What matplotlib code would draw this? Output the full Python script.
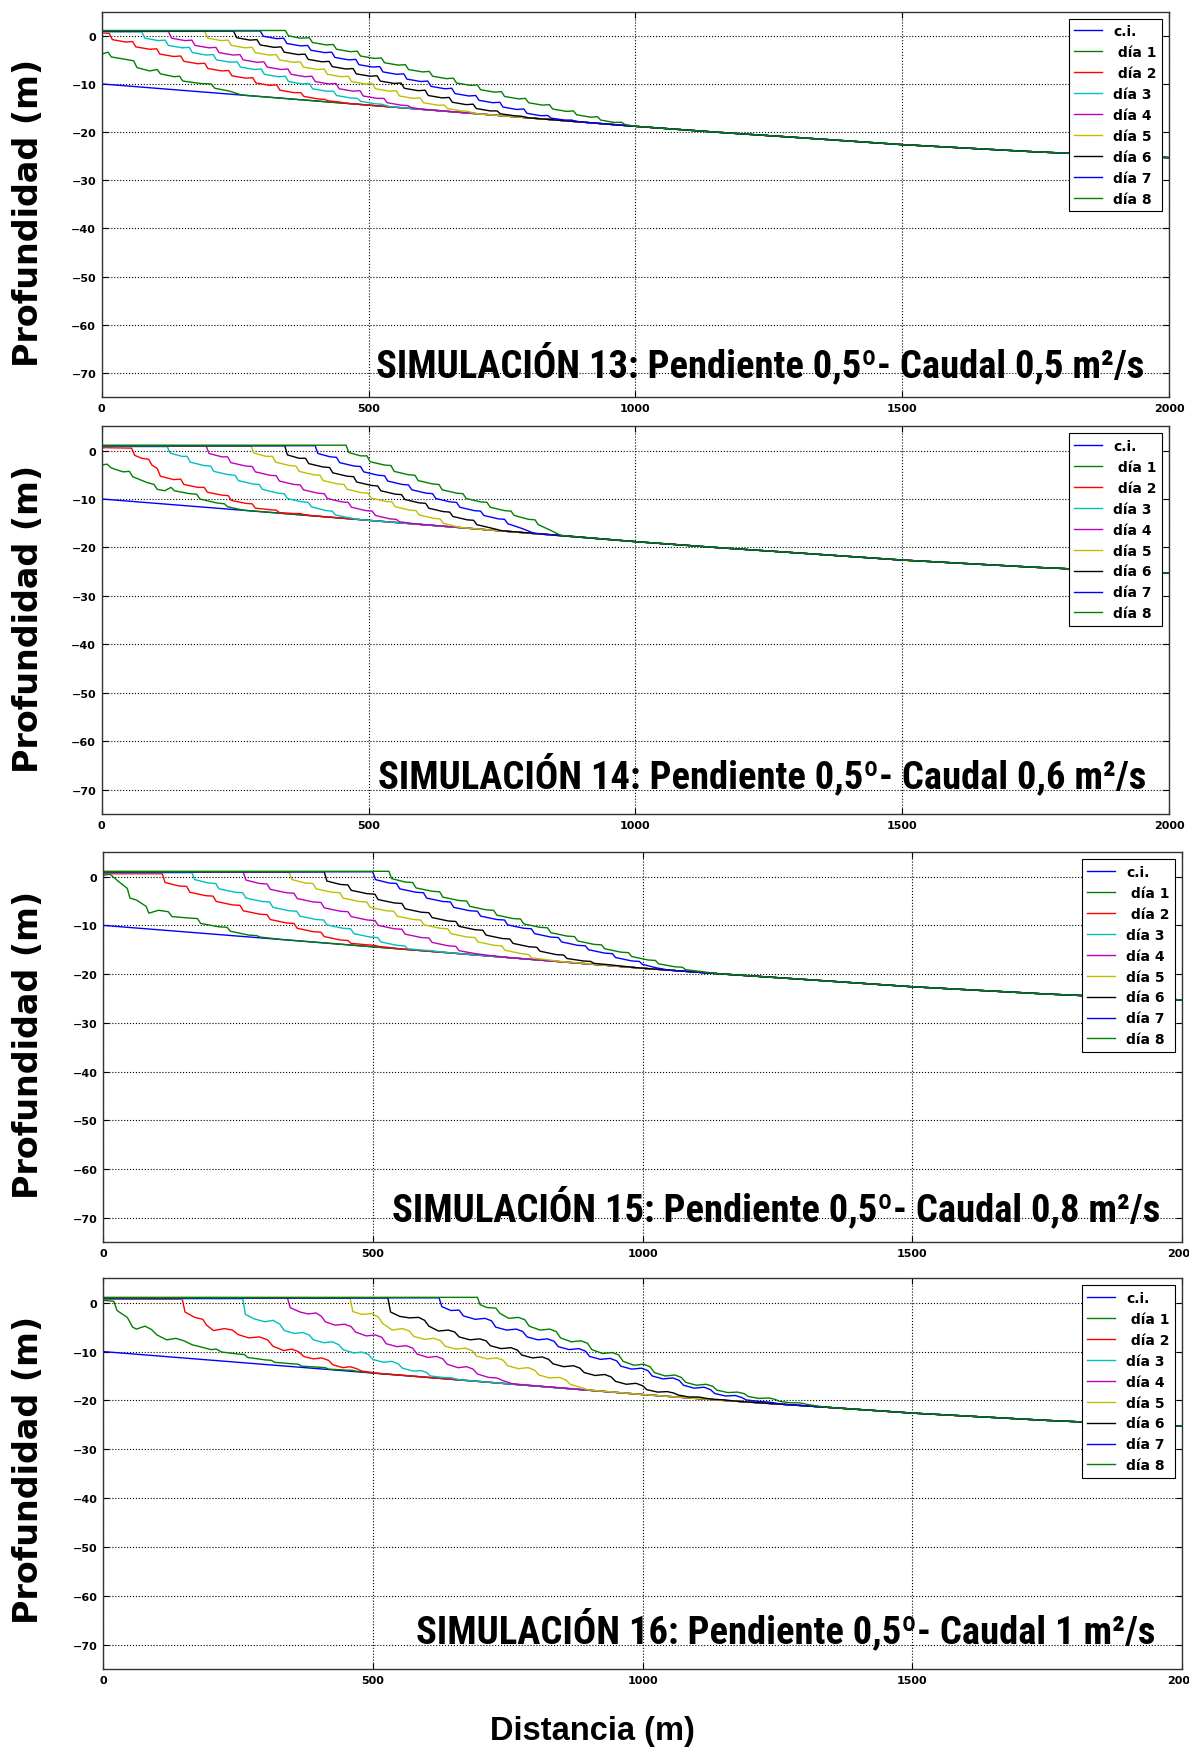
import matplotlib
matplotlib.use("Agg")
import matplotlib.pyplot as plt
from matplotlib import font_manager as fm

# ---------------------------------------------------------------- data
# initial bathymetry (c.i.), common to all four simulations
CI = [(0, -10.0), (250, -12.2), (500, -14.4), (750, -16.6), (1000, -18.8),
      (1150, -20.0), (1300, -21.1), (1500, -22.6), (1750, -24.1), (2000, -25.3)]

# Simulation 13 (Q = 0.5 m2/s)
S13_DIA1 = [(0, -3.8), (12, -3.4), (18, -4.4), (45, -4.9), (60, -5.2), (66, -6.6), (90, -7.3),
            (104, -7.0), (110, -7.9), (136, -8.5), (146, -8.4), (152, -9.4), (185, -9.9),
            (205, -10.0), (212, -10.9), (240, -11.5), (262, -12.3)]
S13_DIA2 = [(0, 0.6), (14, 0.5), (20, -0.8), (45, -1.3), (58, -1.2), (64, -2.3), (90, -2.8),
            (103, -2.7), (109, -3.8), (135, -4.3), (148, -4.2), (154, -5.3), (180, -5.8),
            (193, -5.7), (199, -6.8), (225, -7.3), (238, -7.2), (244, -8.3), (270, -8.8),
            (283, -8.7), (289, -9.8), (315, -10.3), (328, -10.2), (334, -11.3), (360, -11.8),
            (373, -11.8), (379, -12.6), (405, -13.1), (418, -13.2), (424, -13.5), (445, -13.75),
            (460, -14.02)]
S13_DIA3 = [(0, 0.8), (75, 0.8), (81, -0.5), (106, -1.0), (119, -0.9), (125, -2.0), (151, -2.5),
            (164, -2.4), (170, -3.5), (196, -4.0), (209, -3.9), (215, -5.0), (241, -5.5),
            (254, -5.4), (260, -6.5), (286, -7.0), (299, -6.9), (305, -8.0), (331, -8.5),
            (344, -8.4), (350, -9.5), (376, -10.0), (389, -9.9), (395, -11.0), (421, -11.5),
            (434, -11.5), (440, -12.4), (466, -12.9), (479, -13.0), (485, -13.6), (511, -14.1),
            (524, -14.2), (540, -14.71)]
S13_DIA4 = [(0, 0.9), (125, 0.9), (131, -0.5), (156, -1.0), (169, -0.9), (175, -2.0), (201, -2.5),
            (214, -2.4), (220, -3.5), (246, -4.0), (259, -3.9), (265, -5.0), (291, -5.5),
            (304, -5.4), (310, -6.5), (336, -7.0), (349, -6.9), (355, -8.0), (381, -8.5),
            (394, -8.4), (400, -9.5), (426, -10.0), (439, -9.9), (445, -11.0), (471, -11.5),
            (484, -11.4), (490, -12.5), (516, -13.0), (529, -13.0), (535, -13.9), (561, -14.4),
            (574, -14.5), (580, -14.9), (600, -15.24)]
S13_DIA5 = [(0, 0.9), (193, 0.9), (199, -0.5), (224, -1.0), (237, -0.9), (243, -2.0), (269, -2.5),
            (282, -2.4), (288, -3.5), (314, -4.0), (327, -3.9), (333, -5.0), (359, -5.5),
            (372, -5.4), (378, -6.5), (404, -7.0), (417, -6.9), (423, -8.0), (449, -8.5),
            (462, -8.4), (468, -9.5), (494, -10.0), (507, -9.9), (513, -11.0), (539, -11.5),
            (552, -11.4), (558, -12.5), (584, -13.0), (597, -12.9), (603, -13.9), (629, -14.4),
            (642, -14.4), (648, -15.1), (674, -15.6), (687, -15.7), (700, -16.16)]
S13_DIA6 = [(0, 1.0), (247, 1.0), (253, -0.4), (278, -0.9), (291, -0.8), (297, -1.9), (323, -2.4),
            (336, -2.3), (342, -3.4), (368, -3.9), (381, -3.8), (387, -4.9), (413, -5.4),
            (426, -5.3), (432, -6.4), (458, -6.9), (471, -6.8), (477, -7.9), (503, -8.4),
            (516, -8.3), (522, -9.4), (548, -9.9), (561, -9.8), (567, -10.9), (593, -11.4),
            (606, -11.3), (612, -12.4), (638, -12.9), (651, -12.8), (657, -13.8), (683, -14.3),
            (696, -14.2), (702, -15.1), (728, -15.6), (741, -15.6), (747, -16.2), (773, -16.6),
            (786, -16.7), (800, -17.04)]
S13_DIA7 = [(0, 1.0), (297, 1.0), (303, -0.1), (328, -0.6), (341, -0.5), (347, -1.6), (373, -2.1),
            (386, -2.0), (392, -3.0), (418, -3.5), (431, -3.4), (437, -4.5), (463, -5.0),
            (476, -4.9), (482, -6.0), (508, -6.5), (521, -6.4), (527, -7.5), (553, -8.0),
            (566, -7.9), (572, -9.0), (598, -9.5), (611, -9.4), (617, -10.5), (643, -11.0),
            (656, -10.9), (662, -12.0), (688, -12.5), (701, -12.4), (707, -13.4), (733, -13.9),
            (746, -13.8), (752, -14.8), (778, -15.3), (791, -15.2), (797, -16.1), (823, -16.6),
            (836, -16.55), (842, -17.1), (868, -17.5), (881, -17.5), (887, -17.7), (900, -17.92)]
S13_DIA8 = [(0, 1.1), (344, 1.1), (350, 0.0), (372, -0.5), (389, -0.4), (395, -1.4), (421, -1.9),
            (434, -1.8), (440, -2.8), (466, -3.3), (479, -3.2), (485, -4.2), (511, -4.7),
            (524, -4.6), (530, -5.6), (556, -6.1), (569, -6.0), (575, -7.0), (601, -7.5),
            (614, -7.4), (620, -8.4), (646, -8.9), (659, -8.8), (665, -9.8), (691, -10.3),
            (704, -10.2), (710, -11.2), (736, -11.7), (749, -11.6), (755, -12.6), (781, -13.1),
            (794, -13.0), (800, -13.9), (826, -14.4), (839, -14.3), (845, -15.2), (871, -15.7),
            (884, -15.6), (890, -16.4), (916, -16.9), (929, -16.8), (935, -17.5), (961, -18.0),
            (974, -17.95), (980, -18.4), (1000, -18.8)]

# Simulation 14 (Q = 0.6 m2/s)
S14_DIA1 = [(0, -3.0), (10, -2.8), (18, -3.6), (40, -4.4), (52, -4.3), (58, -5.4), (85, -6.6),
            (98, -7.0), (104, -8.0), (118, -8.3), (130, -7.6), (136, -8.3), (165, -8.9),
            (178, -9.0), (184, -10.0), (215, -10.8), (230, -11.0), (236, -11.6), (265, -12.3)]
S14_DIA2 = [(0, 0.6), (56, 0.5), (62, -1.0), (75, -1.6), (88, -1.8), (94, -3.0), (104, -3.7),
            (110, -5.3), (135, -6.0), (148, -5.9), (154, -7.0), (180, -7.6), (192, -7.6),
            (198, -8.6), (225, -9.2), (237, -9.3), (243, -10.3), (270, -10.9), (282, -11.0),
            (288, -11.9), (315, -12.2), (327, -12.3), (333, -12.8), (360, -13.0), (372, -13.0),
            (378, -13.2), (395, -13.45)]
S14_DIA3 = [(0, 0.8), (123, 0.8), (128, -0.5), (150, -1.2), (160, -1.2), (166, -2.4), (192, -3.1),
            (204, -3.2), (210, -4.3), (238, -5.0), (250, -5.1), (256, -6.2), (283, -6.9),
            (295, -7.0), (301, -8.0), (330, -8.8), (342, -8.9), (348, -9.9), (375, -10.6),
            (387, -10.7), (393, -11.6), (420, -12.4), (432, -12.5), (438, -13.3), (460, -13.8),
            (480, -14.2)]
S14_DIA4 = [(0, 0.9), (196, 0.9), (201, -0.6), (225, -1.3), (236, -1.3), (242, -2.5), (270, -3.2),
            (282, -3.3), (288, -4.4), (315, -5.1), (327, -5.2), (333, -6.3), (360, -7.0),
            (372, -7.1), (378, -8.1), (405, -8.8), (417, -8.9), (423, -9.9), (450, -10.6),
            (462, -10.7), (468, -11.7), (495, -12.4), (507, -12.5), (513, -13.4), (540, -14.1),
            (552, -14.2), (558, -14.7), (585, -15.1)]
S14_DIA5 = [(0, 0.9), (280, 0.9), (285, -0.5), (308, -1.2), (320, -1.2), (326, -2.4), (352, -3.1),
            (364, -3.2), (370, -4.3), (397, -5.0), (409, -5.1), (415, -6.2), (442, -6.9),
            (454, -7.0), (460, -8.0), (487, -8.7), (499, -8.8), (505, -9.8), (532, -10.5),
            (544, -10.6), (550, -11.6), (577, -12.3), (589, -12.4), (595, -13.3), (622, -14.0),
            (634, -14.1), (640, -15.0), (670, -15.85)]
S14_DIA6 = [(0, 1.0), (343, 1.0), (348, -0.9), (370, -1.6), (382, -1.6), (388, -2.7), (415, -3.4),
            (427, -3.5), (433, -4.6), (460, -5.3), (472, -5.4), (478, -6.5), (505, -7.2),
            (517, -7.3), (523, -8.3), (550, -9.0), (562, -9.1), (568, -10.1), (595, -10.8),
            (607, -10.9), (613, -11.9), (640, -12.6), (652, -12.7), (658, -13.6), (685, -14.3),
            (697, -14.4), (703, -15.3), (730, -16.0), (750, -16.55)]
S14_DIA7 = [(0, 1.0), (400, 1.0), (405, -0.6), (428, -1.3), (440, -1.4), (446, -2.5), (473, -3.2),
            (485, -3.3), (491, -4.4), (518, -5.1), (530, -5.2), (536, -6.3), (563, -7.0),
            (575, -7.1), (581, -8.1), (608, -8.8), (620, -8.9), (626, -9.9), (653, -10.6),
            (665, -10.7), (671, -11.7), (698, -12.4), (710, -12.5), (716, -13.4), (743, -14.1),
            (755, -14.2), (761, -15.1), (788, -16.1), (810, -17.07)]
S14_DIA8 = [(0, 1.1), (458, 1.1), (463, -0.4), (485, -1.1), (497, -1.1), (503, -2.3), (530, -3.0),
            (542, -3.1), (548, -4.3), (575, -5.0), (587, -5.1), (593, -6.2), (620, -6.9),
            (632, -7.0), (638, -8.1), (665, -8.8), (677, -8.9), (683, -9.9), (710, -10.6),
            (722, -10.7), (728, -11.7), (755, -12.4), (767, -12.5), (773, -13.4), (800, -14.2),
            (812, -14.3), (818, -15.3), (840, -16.4), (860, -17.5)]

# Simulation 15 (Q = 0.8 m2/s)
S15_DIA1 = [(0, 0.3), (13, 0.5), (29, -1.0), (45, -2.4), (50, -4.4), (62, -4.8), (80, -6.1),
            (85, -7.5), (103, -6.9), (121, -7.2), (128, -8.2), (160, -8.5), (175, -8.6),
            (181, -9.6), (215, -10.3), (230, -10.4), (236, -11.2), (270, -12.0), (285, -12.1),
            (291, -12.4), (330, -12.88)]
S15_DIA2 = [(0, 0.6), (110, 0.6), (115, -1.2), (140, -1.9), (155, -2.0), (161, -3.2), (190, -3.9),
            (204, -4.0), (210, -5.1), (240, -5.8), (254, -5.9), (260, -7.0), (290, -7.7),
            (304, -7.8), (310, -8.8), (340, -9.5), (354, -9.6), (360, -10.6), (390, -11.3),
            (404, -11.4), (410, -12.3), (440, -13.0), (454, -13.1), (460, -13.7), (490, -14.0),
            (504, -14.1), (510, -14.3), (555, -14.85)]
S15_DIA3 = [(0, 0.8), (165, 0.8), (170, -0.6), (195, -1.3), (209, -1.4), (215, -2.5), (245, -3.2),
            (259, -3.3), (265, -4.4), (295, -5.1), (309, -5.2), (315, -6.3), (345, -7.0),
            (359, -7.1), (365, -8.1), (395, -8.8), (409, -8.9), (415, -9.9), (445, -10.6),
            (459, -10.7), (465, -11.7), (495, -12.4), (509, -12.5), (515, -13.4), (545, -14.1),
            (559, -14.2), (565, -14.8), (595, -15.1), (609, -15.2), (615, -15.3), (640, -15.59)]
S15_DIA4 = [(0, 0.9), (260, 0.9), (265, -0.7), (290, -1.4), (304, -1.5), (310, -2.6), (340, -3.3),
            (354, -3.4), (360, -4.5), (390, -5.2), (404, -5.3), (410, -6.4), (440, -7.1),
            (454, -7.2), (460, -8.2), (490, -8.9), (504, -9.0), (510, -10.0), (540, -10.7),
            (554, -10.8), (560, -11.8), (590, -12.5), (604, -12.6), (610, -13.5), (640, -14.2),
            (654, -14.3), (660, -15.2), (690, -15.8), (704, -16.0), (710, -16.1), (740, -16.46)]
S15_DIA5 = [(0, 0.9), (345, 0.9), (350, -0.6), (375, -1.3), (389, -1.4), (395, -2.5), (425, -3.2),
            (439, -3.3), (445, -4.4), (475, -5.1), (489, -5.2), (495, -6.3), (525, -7.0),
            (539, -7.1), (545, -8.1), (575, -8.8), (589, -8.9), (595, -9.9), (625, -10.6),
            (639, -10.7), (645, -11.7), (675, -12.4), (689, -12.5), (695, -13.4), (725, -14.1),
            (739, -14.2), (745, -15.1), (775, -15.8), (789, -16.0), (795, -16.7), (820, -17.0),
            (845, -17.38)]
S15_DIA6 = [(0, 1.0), (410, 1.0), (415, -0.9), (440, -1.6), (454, -1.7), (460, -2.8), (490, -3.5),
            (504, -3.6), (510, -4.7), (540, -5.4), (554, -5.5), (560, -6.6), (590, -7.3),
            (604, -7.4), (610, -8.4), (640, -9.1), (654, -9.2), (660, -10.2), (690, -10.9),
            (704, -11.0), (710, -12.0), (740, -12.7), (754, -12.8), (760, -13.7), (790, -14.4),
            (804, -14.5), (810, -15.3), (840, -16.0), (854, -16.1), (860, -16.8), (890, -17.3),
            (904, -17.4), (910, -17.8), (940, -18.1), (965, -18.42)]
S15_DIA7 = [(0, 1.0), (500, 1.0), (505, -0.6), (530, -1.3), (544, -1.4), (550, -2.5), (580, -3.2),
            (594, -3.3), (600, -4.4), (630, -5.1), (644, -5.2), (650, -6.3), (680, -7.0),
            (694, -7.1), (700, -8.1), (730, -8.8), (744, -8.9), (750, -9.9), (780, -10.6),
            (794, -10.7), (800, -11.7), (830, -12.4), (844, -12.5), (850, -13.4), (880, -14.1),
            (894, -14.2), (900, -15.0), (930, -15.7), (944, -15.8), (950, -16.6), (980, -17.3),
            (994, -17.4), (1000, -18.0), (1025, -18.7), (1050, -19.2)]
S15_DIA8 = [(0, 1.1), (530, 1.1), (535, -0.4), (560, -1.1), (574, -1.2), (580, -2.3), (610, -3.0),
            (624, -3.1), (630, -4.2), (660, -4.9), (674, -5.0), (680, -6.1), (710, -6.8),
            (724, -6.9), (730, -7.9), (760, -8.6), (774, -8.7), (780, -9.7), (810, -10.4),
            (824, -10.5), (830, -11.5), (860, -12.2), (874, -12.3), (880, -13.2), (910, -13.9),
            (924, -14.0), (930, -14.8), (960, -15.5), (974, -15.6), (980, -16.4), (1010, -17.1),
            (1024, -17.2), (1030, -17.9), (1060, -18.5), (1074, -18.6), (1080, -19.1),
            (1110, -19.5), (1140, -19.92)]

# Simulation 16 (Q = 1 m2/s)
S16_DIA1 = [(0, 0.5), (20, 0.3), (26, -1.6), (45, -3.0), (55, -5.0), (62, -5.4), (78, -4.8),
            (90, -5.5), (100, -6.6), (118, -7.6), (135, -7.3), (150, -7.8), (165, -8.6),
            (190, -9.3), (200, -9.6), (210, -9.5), (220, -10.1), (250, -10.5), (262, -10.6),
            (268, -11.2), (300, -11.7), (312, -11.8), (318, -12.2), (350, -12.5), (362, -12.6),
            (368, -13.0), (400, -13.2), (412, -13.3), (418, -13.6), (450, -13.8), (462, -13.85),
            (468, -14.0), (495, -14.32)]
S16_DIA2 = [(0, 0.7), (147, 0.7), (152, -1.9), (170, -3.0), (185, -3.4), (192, -4.6), (205, -5.7),
            (225, -5.3), (240, -5.6), (250, -6.5), (270, -7.2), (290, -7.0), (305, -7.6),
            (315, -8.9), (335, -9.8), (350, -9.5), (362, -10.0), (372, -11.0), (390, -11.5),
            (405, -11.3), (418, -11.8), (426, -12.7), (445, -13.3), (458, -13.1), (470, -13.5),
            (480, -14.0), (510, -14.45)]
S16_DIA3 = [(0, 0.8), (259, 0.8), (264, -2.4), (280, -3.3), (300, -3.9), (315, -3.6), (328, -4.4),
            (336, -5.7), (355, -6.3), (370, -6.1), (382, -6.6), (390, -7.6), (410, -8.2),
            (425, -8.0), (437, -8.6), (445, -9.6), (465, -10.3), (480, -10.1), (492, -10.6),
            (500, -11.6), (520, -12.2), (535, -12.0), (547, -12.5), (555, -13.4), (575, -14.0),
            (590, -13.9), (600, -14.3), (607, -15.0), (630, -15.3), (645, -15.35), (660, -15.76)]
S16_DIA4 = [(0, 0.9), (342, 0.9), (347, -1.0), (365, -1.9), (380, -2.3), (395, -2.1), (405, -2.8),
            (412, -3.9), (430, -4.6), (448, -4.4), (460, -4.9), (468, -6.0), (488, -6.8),
            (505, -6.6), (517, -7.1), (525, -8.4), (545, -9.0), (562, -8.8), (574, -9.3),
            (582, -10.5), (602, -11.2), (618, -11.0), (630, -11.5), (638, -12.6), (658, -13.3),
            (674, -13.1), (686, -13.6), (694, -14.6), (715, -15.3), (730, -15.4), (740, -15.9),
            (760, -16.63)]
S16_DIA5 = [(0, 0.9), (458, 0.9), (463, -1.8), (480, -2.4), (498, -2.2), (510, -2.9), (518, -4.2),
            (536, -5.6), (555, -5.3), (568, -5.8), (576, -6.9), (596, -7.5), (614, -7.3),
            (626, -7.8), (634, -8.9), (654, -9.5), (672, -9.3), (684, -9.8), (692, -10.9),
            (712, -11.5), (730, -11.3), (742, -11.8), (750, -12.9), (770, -13.5), (788, -13.3),
            (800, -13.8), (808, -14.8), (828, -15.4), (846, -15.3), (858, -15.8), (866, -16.7),
            (884, -17.3), (900, -17.86)]
S16_DIA6 = [(0, 1.0), (528, 1.0), (533, -1.9), (550, -2.8), (568, -3.1), (585, -3.0), (596, -3.6),
            (604, -4.8), (622, -5.8), (640, -5.6), (652, -6.0), (660, -7.0), (680, -7.6),
            (698, -7.4), (710, -7.8), (718, -8.8), (738, -9.4), (756, -9.2), (768, -9.7),
            (776, -10.7), (796, -11.3), (814, -11.1), (826, -11.6), (834, -12.5), (854, -13.1),
            (872, -12.9), (884, -13.4), (892, -14.3), (912, -14.9), (930, -14.7), (942, -15.2),
            (950, -16.1), (970, -16.7), (988, -16.5), (1000, -17.0), (1008, -17.8), (1028, -18.3),
            (1046, -18.2), (1058, -18.5), (1066, -18.9), (1086, -19.3), (1104, -19.3),
            (1116, -19.55), (1124, -19.7), (1150, -19.9), (1180, -20.22)]
S16_DIA7 = [(0, 1.0), (623, 1.0), (628, -0.8), (645, -1.6), (660, -1.5), (668, -2.7), (690, -3.4),
            (708, -3.2), (720, -3.7), (728, -5.0), (748, -5.6), (766, -5.4), (778, -5.9),
            (786, -7.0), (806, -7.6), (824, -7.4), (836, -7.9), (844, -9.0), (864, -9.6),
            (882, -9.4), (894, -9.9), (902, -11.0), (922, -11.6), (940, -11.4), (952, -11.9),
            (960, -13.0), (980, -13.6), (998, -13.4), (1010, -13.9), (1018, -15.0), (1038, -15.6),
            (1056, -15.4), (1068, -15.9), (1076, -16.9), (1096, -17.5), (1114, -17.3),
            (1126, -17.8), (1134, -18.6), (1154, -19.1), (1172, -19.0), (1184, -19.4),
            (1192, -19.9), (1215, -20.2), (1235, -20.35), (1260, -20.8)]
S16_DIA8 = [(0, 1.1), (694, 1.1), (699, -0.4), (712, -1.0), (728, -1.1), (736, -2.2), (752, -3.2),
            (770, -3.0), (782, -3.5), (790, -4.8), (810, -5.6), (828, -5.4), (840, -5.9),
            (848, -7.2), (868, -8.0), (886, -7.8), (898, -8.3), (906, -9.6), (926, -10.4),
            (944, -10.2), (956, -10.7), (964, -12.0), (984, -12.8), (1002, -12.6), (1014, -13.1),
            (1022, -14.3), (1042, -15.0), (1060, -14.8), (1072, -15.3), (1080, -16.3),
            (1100, -16.9), (1118, -16.7), (1130, -17.1), (1138, -17.9), (1158, -18.4),
            (1176, -18.3), (1188, -18.6), (1196, -19.2), (1216, -19.6), (1234, -19.5),
            (1246, -19.8), (1254, -20.2), (1274, -20.5), (1292, -20.5), (1304, -20.8),
            (1312, -20.95), (1340, -21.4)]

SIM13 = [S13_DIA1, S13_DIA2, S13_DIA3, S13_DIA4, S13_DIA5, S13_DIA6, S13_DIA7, S13_DIA8]
SIM14 = [S14_DIA1, S14_DIA2, S14_DIA3, S14_DIA4, S14_DIA5, S14_DIA6, S14_DIA7, S14_DIA8]
SIM15 = [S15_DIA1, S15_DIA2, S15_DIA3, S15_DIA4, S15_DIA5, S15_DIA6, S15_DIA7, S15_DIA8]
SIM16 = [S16_DIA1, S16_DIA2, S16_DIA3, S16_DIA4, S16_DIA5, S16_DIA6, S16_DIA7, S16_DIA8]

LABELS = ["c.i.", " día 1", " día 2", "día 3", "día 4", "día 5", "día 6", "día 7", "día 8"]
COLORS = ["b", "g", "r", "c", "m", "y", "k", "b", "g"]
TITLES = ["SIMULACIÓN 13: Pendiente 0,5º- Caudal 0,5 m²/s",
          "SIMULACIÓN 14: Pendiente 0,5º- Caudal 0,6 m²/s",
          "SIMULACIÓN 15: Pendiente 0,5º- Caudal 0,8 m²/s",
          "SIMULACIÓN 16: Pendiente 0,5º- Caudal 1 m²/s"]
X_TICKS = [0, 500, 1000, 1500, 2000]
Y_TICKS = [-70, -60, -50, -40, -30, -20, -10, 0]
YLABEL = "Profundidad (m)"
XLABEL = "Distancia (m)"

# ---------------------------------------------------------------- layout
W, H = 1189, 1749
# axes boxes in pixels: left, top, right, bottom
BOXES = [(101.7, 12.7, 1169.0, 398.0),
         (101.7, 427.3, 1169.0, 815.0),
         (103.0, 853.3, 1182.0, 1243.0),
         (103.0, 1279.3, 1182.0, 1670.0)]
YLABEL_CENTER = [213, 619, 1045, 1470]
TITLE_POS = [(1953, -70.6), (1957, -69.5), (1959, -70.6), (1950, -69.6)]

available = {f.name for f in fm.fontManager.ttflist}
title_family = "Liberation Sans"
for cand in ["Liberation Sans Narrow", "Roboto Condensed", "Open Sans Condensed", "Roboto"]:
    if cand in available:
        title_family = cand
        break

fig = plt.figure(figsize=(W / 100, H / 100), dpi=100, facecolor="white")


def extend_on_bed(points):
    """Profile of one day; beyond its last vertex it lies on the bed (c.i.)."""
    xs = [p[0] for p in points]
    ys = [p[1] for p in points]
    last = xs[-1]
    for x, y in CI:
        if x > last:
            xs.append(x)
            ys.append(y)
    return xs, ys


axes = []
for k, (sim, box) in enumerate(zip([SIM13, SIM14, SIM15, SIM16], BOXES)):
    l, t, r, b = box
    ax = fig.add_axes([l / W, 1 - b / H, (r - l) / W, (b - t) / H])
    axes.append(ax)
    ax.plot([p[0] for p in CI], [p[1] for p in CI], color=COLORS[0], lw=1.0, label=LABELS[0])
    for j, day in enumerate(sim):
        xs, ys = extend_on_bed(day)
        ax.plot(xs, ys, color=COLORS[j + 1], lw=1.0, label=LABELS[j + 1])

    ax.set_xlim(0, 2000)
    ax.set_ylim(-75, 5)
    ax.set_xticks(X_TICKS)
    ax.set_yticks(Y_TICKS)
    ax.grid(True, linestyle=":", color="black", linewidth=0.8)
    ax.tick_params(direction="in", top=True, right=True, length=4, width=0.8,
                   labelsize=8, pad=4)
    for lab in ax.get_xticklabels() + ax.get_yticklabels():
        lab.set_fontweight("bold")
    for sp in ax.spines.values():
        sp.set_linewidth(1.0)
        sp.set_color("#333333")

    leg = ax.legend(loc="upper right", prop={"weight": "bold", "size": 10},
                    fancybox=False, framealpha=1.0, edgecolor="black",
                    handlelength=2.0, borderaxespad=0.5, labelspacing=0.5)
    leg.get_frame().set_linewidth(0.8)

    tx, ty = TITLE_POS[k]
    ax.text(tx, ty, TITLES[k], ha="right", va="baseline",
            family=[title_family, "DejaVu Sans"], weight="bold", size=29)

    fig.text(29 / W, 1 - YLABEL_CENTER[k] / H, YLABEL, rotation=90, ha="center",
             va="center", family="DejaVu Sans", weight="bold", size=24)

# scale the in-panel captions to their printed width
fig.canvas.draw()
renderer = fig.canvas.get_renderer()
cap = axes[0].texts[0]
width_px = cap.get_window_extent(renderer).width
scale = 767.0 / width_px
for ax in axes:
    for txt in ax.texts:
        txt.set_fontsize(29 * scale)

fig.text(592 / W, 1 - 1732 / H, XLABEL, ha="center", va="center",
         family=["Liberation Sans", "DejaVu Sans"], weight="bold", size=23.5)

fig.savefig("out.png", dpi=100, facecolor="white")
